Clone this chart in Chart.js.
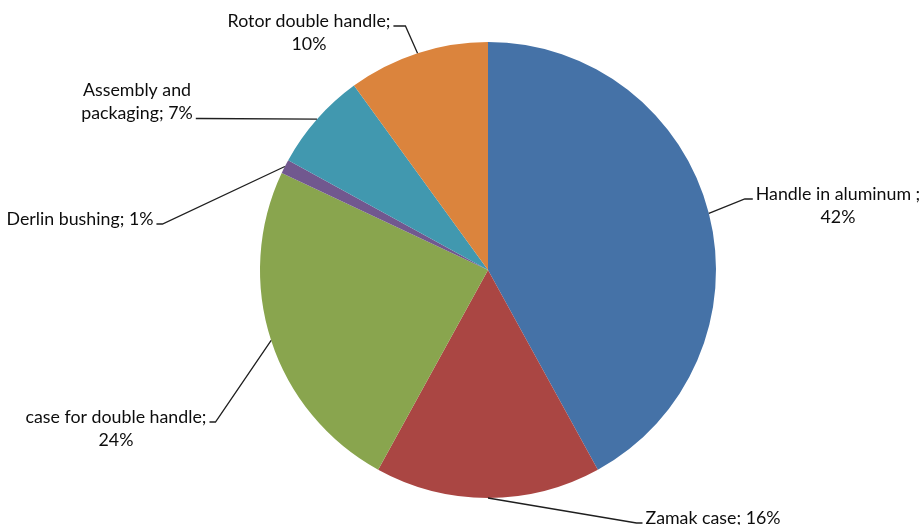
<!DOCTYPE html>
<html>
<head>
<meta charset="utf-8">
<script src="https://cdn.jsdelivr.net/npm/chart.js@4"></script>
<style>
  html, body { margin: 0; padding: 0; background: #ffffff; }
  #wrap { width: 922px; height: 525px; }
</style>
</head>
<body>
<div id="wrap"><canvas id="cost" width="922" height="525"></canvas></div>
<script>
// Cost breakdown of the double handle assembly (share of total, %)
const categories = ['Handle in aluminum ', 'Zamak case', 'case for double handle', 'Derlin bushing', 'Assembly and packaging', 'Rotor double handle'];
const shares = [42, 16, 24, 1, 7, 10];
const sliceColors = ['#4572A7', '#AA4643', '#89A54E', '#71588F', '#4198AF', '#DB843D'];

// Where each callout sits: centre of its first text line, the side the leader
// enters from, which text line it joins, the horizontal stub and the word wrap.
const calloutLayout = [
  { cx: 838, cy: 194, side: 'left',  line: 0, stub: 8,  wrap: 4 },
  { cx: 713, cy: 518, side: 'left',  line: 0, stub: 6,  wrap: null },
  { cx: 116, cy: 417, side: 'right', line: 0, stub: 6,  wrap: 4 },
  { cx: 80,  cy: 219, side: 'right', line: 0, stub: 6,  wrap: null },
  { cx: 137, cy: 90,  side: 'right', line: 1, stub: 4,  wrap: 2 },
  { cx: 309, cy: 21,  side: 'right', line: 0, stub: 12, wrap: 3 }
];

const FONT = '17.8px Lato, "Open Sans", sans-serif';
const LINE_H = 23.5;

function labelLines(i) {
  const text = categories[i] + '; ' + shares[i] + '%';
  const words = text.split(/\s+/);
  const wrap = calloutLayout[i].wrap;
  if (!wrap) return [words.join(' ')];
  return [words.slice(0, wrap).join(' '), words.slice(wrap).join(' ')];
}

const calloutPlugin = {
  id: 'callouts',
  afterDatasetsDraw(chart) {
    const ctx = chart.ctx;
    const arcs = chart.getDatasetMeta(0).data;
    ctx.save();
    ctx.font = FONT;
    ctx.textAlign = 'center';
    ctx.textBaseline = 'middle';
    arcs.forEach((arc, i) => {
      const p = arc.getProps(['x', 'y', 'startAngle', 'endAngle', 'outerRadius'], true);
      const mid = (p.startAngle + p.endAngle) / 2;
      const ax = p.x + Math.cos(mid) * p.outerRadius;
      const ay = p.y + Math.sin(mid) * p.outerRadius;
      const lay = calloutLayout[i];
      const lines = labelLines(i);
      const w = ctx.measureText(lines[lay.line]).width;
      const ey = lay.cy + lay.line * LINE_H + 5;
      const ex = lay.side === 'left' ? lay.cx - w / 2 - 3 : lay.cx + w / 2 + 3;
      const bx = lay.side === 'left' ? ex - lay.stub : ex + lay.stub;

      ctx.strokeStyle = '#1f1f1f';
      ctx.lineWidth = 1.3;
      ctx.beginPath();
      ctx.moveTo(ax, ay);
      ctx.lineTo(bx, ey);
      ctx.lineTo(ex, ey);
      ctx.stroke();

      ctx.fillStyle = '#0d0d0d';
      lines.forEach((t, k) => ctx.fillText(t, lay.cx, lay.cy + k * LINE_H));
    });
    ctx.restore();
  }
};

new Chart(document.getElementById('cost'), {
  type: 'pie',
  data: {
    labels: categories,
    datasets: [{
      data: shares,
      backgroundColor: sliceColors,
      borderWidth: 0
    }]
  },
  options: {
    responsive: false,
    devicePixelRatio: 1,
    animation: false,
    layout: { padding: { top: 42, bottom: 27, left: 200, right: 146 } },
    plugins: {
      legend: { display: false },
      tooltip: { enabled: false }
    }
  },
  plugins: [calloutPlugin]
});
</script>
</body>
</html>
